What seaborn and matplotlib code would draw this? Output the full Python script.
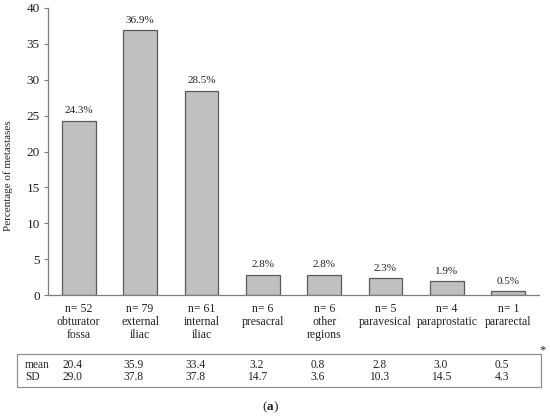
import matplotlib
matplotlib.use("Agg")
import matplotlib.pyplot as plt
import matplotlib.transforms as mtransforms
from matplotlib.patches import Rectangle
import seaborn as sns
import pandas as pd

categories = ["obturator\nfossa", "external\niliac", "internal\niliac", "presacral",
              "other\nregions", "paravesical", "paraprostatic", "pararectal"]
n_counts = [52, 79, 61, 6, 6, 5, 4, 1]
percentages = [24.3, 36.9, 28.5, 2.8, 2.8, 2.3, 1.9, 0.5]
means = ["20.4", "35.9", "33.4", "3.2", "0.8", "2.8", "3.0", "0.5"]
sds = ["29.0", "37.8", "37.8", "14.7", "3.6", "10.3", "14.5", "4.3"]
yticks = [0, 5, 10, 15, 20, 25, 30, 35, 40]

sns.set_theme(style="white")
plt.rcParams['font.family'] = ['Liberation Serif', 'DejaVu Serif']
plt.rcParams['text.color'] = '#222222'
plt.rcParams['mathtext.fontset'] = 'custom'
plt.rcParams['mathtext.rm'] = 'Liberation Serif'
plt.rcParams['mathtext.bf'] = 'Liberation Serif:bold'

labels = [f"n= {n}\n{c}" for n, c in zip(n_counts, categories)]
df = pd.DataFrame({"label": labels, "pct": percentages})

fig = plt.figure(figsize=(5.5, 4.18), dpi=100)
ax = fig.add_axes([48/550, 1-295/418, (539-48)/550, (295-8)/418])

sns.barplot(data=df, x="label", y="pct", color="#c0c0c0", edgecolor="#5a5a5a",
            linewidth=0.9, width=0.55, saturation=1, ax=ax)

ax.set_xlim(-0.5, 7.5)
ax.set_ylim(0, 40)
ax.set_yticks(yticks)
ax.set_xlabel("")
ax.set_ylabel("Percentage of metastases", fontsize=8, color="#222222")
ax.yaxis.set_label_coords(-0.072, 0.415)
for s in ["top", "right"]:
    ax.spines[s].set_visible(False)
for s in ["left", "bottom"]:
    ax.spines[s].set_color("#7f7f7f")
    ax.spines[s].set_linewidth(0.9)
ax.tick_params(axis="y", left=True, length=3, width=0.8, color="#7f7f7f",
               labelsize=9.5, labelcolor="#222222", pad=3)
ax.tick_params(axis="x", bottom=False, labelsize=8.5, labelcolor="#222222", pad=0)
for t in ax.get_xticklabels():
    t.set_linespacing(1.1)

for i, p in enumerate(percentages):
    ax.annotate(f"{p}%", (i, p), xytext=(0, 4), textcoords="offset points",
                ha="center", va="bottom", fontsize=8, color="#222222")

# summary table below
trans = mtransforms.blended_transform_factory(ax.transData, fig.transFigure)
fig.patches.append(Rectangle((17/550, 1-387/418), (541-17)/550, (387-354)/418,
                             transform=fig.transFigure, fill=False,
                             edgecolor="#8f8f8f", linewidth=0.9))
yb = 1-379.5/418
fig.text(25/550, yb, "mean\nSD", fontsize=8.3, va="baseline", ha="left",
         linespacing=0.95)
for i, (m, s) in enumerate(zip(means, sds)):
    ax.text(i - 0.1, yb, f"{m}\n{s}", transform=trans, fontsize=8.3,
            va="baseline", ha="center", linespacing=0.95, multialignment="center")
fig.text(543/550, 1-350/418, "*", fontsize=9, ha="center", va="center")

fig.text(270/550, 1-407/418, r"($\mathbf{a}$)", fontsize=9.5, ha="center", va="center")

fig.savefig("out.png", dpi=100)
